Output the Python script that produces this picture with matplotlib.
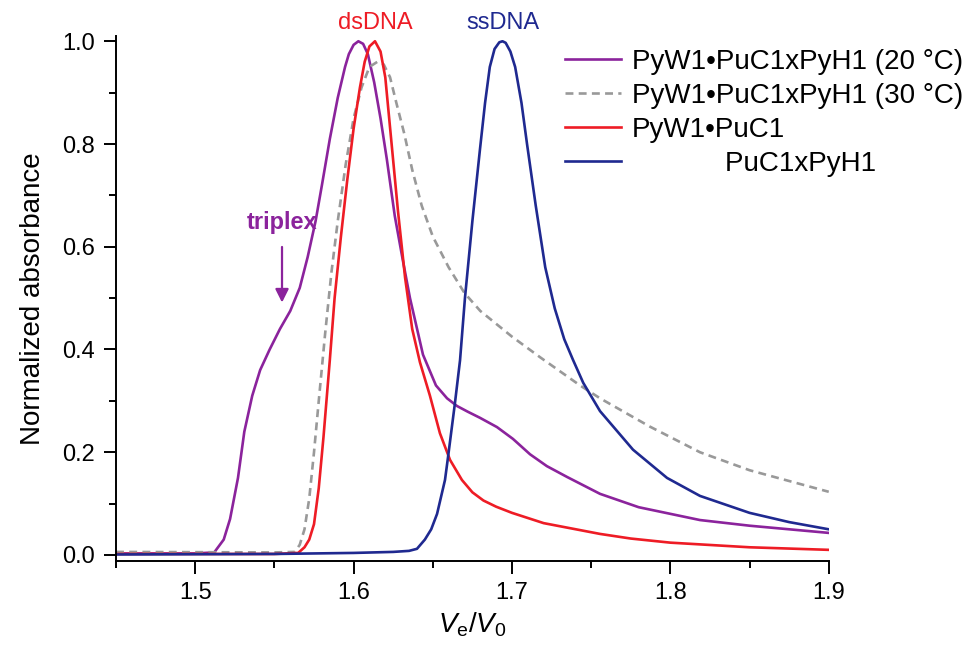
import matplotlib
matplotlib.use('Agg')
import matplotlib.pyplot as plt
from matplotlib.ticker import MultipleLocator

plt.rcParams['font.family'] = ['Liberation Sans', 'DejaVu Sans']
plt.rcParams['mathtext.fontset'] = 'custom'
plt.rcParams['mathtext.rm'] = 'Liberation Sans'
plt.rcParams['mathtext.it'] = 'Liberation Sans:italic'

# PyW1•PuC1xPyH1 at 20 °C
x_20 = [1.45, 1.50, 1.512, 1.518, 1.522, 1.527, 1.531, 1.536, 1.541, 1.547, 1.5535,
        1.56, 1.566, 1.571, 1.576, 1.58, 1.585, 1.59, 1.5946, 1.597, 1.6, 1.603,
        1.606, 1.609, 1.613, 1.617, 1.621, 1.626, 1.631, 1.6356, 1.6438, 1.652,
        1.659, 1.6653, 1.672, 1.6798, 1.6905, 1.7006, 1.7114, 1.722, 1.7347, 1.7556,
        1.78, 1.8187, 1.85, 1.875, 1.9]
y_20 = [0.003, 0.003, 0.005, 0.03, 0.07, 0.15, 0.24, 0.31, 0.36, 0.40, 0.44,
        0.475, 0.52, 0.58, 0.65, 0.72, 0.81, 0.89, 0.95, 0.975, 0.993, 1.0,
        0.995, 0.975, 0.92, 0.85, 0.77, 0.66, 0.575, 0.50, 0.39, 0.33,
        0.305, 0.29, 0.279, 0.267, 0.249, 0.226, 0.196, 0.173, 0.152, 0.119,
        0.093, 0.068, 0.057, 0.05, 0.043]

# PyW1•PuC1xPyH1 at 30 °C
x_30 = [1.45, 1.55, 1.563, 1.566, 1.569, 1.572, 1.575, 1.578, 1.582, 1.586, 1.59,
        1.595, 1.6, 1.605, 1.61, 1.615, 1.619, 1.623, 1.627, 1.632, 1.637, 1.643,
        1.65, 1.66, 1.67, 1.68, 1.69, 1.70, 1.7177, 1.743, 1.7556, 1.787, 1.8187,
        1.85, 1.9]
y_30 = [0.006, 0.005, 0.006, 0.02, 0.05, 0.11, 0.2, 0.3, 0.43, 0.55, 0.65,
        0.76, 0.85, 0.91, 0.95, 0.96, 0.955, 0.93, 0.88, 0.82, 0.75, 0.68,
        0.62, 0.56, 0.51, 0.475, 0.45, 0.425, 0.385, 0.33, 0.305, 0.25, 0.2,
        0.165, 0.123]

# PyW1•PuC1 duplex
x_ds = [1.45, 1.55, 1.565, 1.569, 1.572, 1.575, 1.578, 1.581, 1.585, 1.588, 1.592,
        1.596, 1.6, 1.604, 1.607, 1.61, 1.6135, 1.617, 1.62, 1.624, 1.628, 1.6325,
        1.637, 1.6419, 1.6482, 1.6545, 1.6609, 1.6684, 1.675, 1.682, 1.69, 1.70,
        1.72, 1.7556, 1.775, 1.8, 1.85, 1.9]
y_ds = [0.002, 0.002, 0.004, 0.015, 0.03, 0.06, 0.13, 0.23, 0.38, 0.5, 0.62,
        0.73, 0.83, 0.91, 0.96, 0.99, 1.0, 0.98, 0.93, 0.80, 0.67, 0.54,
        0.44, 0.375, 0.31, 0.237, 0.185, 0.146, 0.122, 0.106, 0.094, 0.082,
        0.062, 0.041, 0.032, 0.024, 0.015, 0.01]

# PuC1xPyH1 single strands
x_ss = [1.45, 1.55, 1.60, 1.625, 1.635, 1.64, 1.645, 1.649, 1.6527, 1.6577, 1.6596,
        1.664, 1.6672, 1.6703, 1.675, 1.6798, 1.683, 1.686, 1.689, 1.692, 1.694,
        1.696, 1.699, 1.702, 1.706, 1.7095, 1.715, 1.721, 1.727, 1.733, 1.7385,
        1.745, 1.7556, 1.7764, 1.7979, 1.8187, 1.85, 1.875, 1.9]
y_ss = [0.001, 0.002, 0.004, 0.006, 0.008, 0.012, 0.03, 0.05, 0.08, 0.146, 0.19,
        0.296, 0.379, 0.5, 0.65, 0.79, 0.88, 0.95, 0.985, 0.998, 1.0,
        0.997, 0.98, 0.95, 0.88, 0.80, 0.68, 0.56, 0.48, 0.42, 0.38,
        0.335, 0.28, 0.205, 0.15, 0.115, 0.082, 0.064, 0.05]

c_purple = '#8B239C'
c_red = '#EE1C25'
c_blue = '#1F2990'
c_gray = '#999999'

fig = plt.figure(figsize=(9.75, 6.45), dpi=100)
ax = fig.add_axes([0.119, 0.130, 0.731, 0.814])

l1, = ax.plot(x_20, y_20, color=c_purple, lw=1.9)
l2, = ax.plot(x_30, y_30, color=c_gray, lw=1.9, dashes=(3, 2))
l3, = ax.plot(x_ds, y_ds, color=c_red, lw=1.9)
l4, = ax.plot(x_ss, y_ss, color=c_blue, lw=1.9)

ax.set_xlim(1.45, 1.9)
ax.set_ylim(-0.012, 1.01)
ax.spines['top'].set_visible(False)
ax.spines['right'].set_visible(False)
for s in ['left', 'bottom']:
    ax.spines[s].set_linewidth(1.4)

ax.xaxis.set_major_locator(MultipleLocator(0.1))
ax.xaxis.set_minor_locator(MultipleLocator(0.05))
ax.yaxis.set_major_locator(MultipleLocator(0.2))
ax.yaxis.set_minor_locator(MultipleLocator(0.1))
ax.xaxis.set_major_formatter(plt.FormatStrFormatter('%.1f'))
ax.yaxis.set_major_formatter(plt.FormatStrFormatter('%.1f'))
ax.tick_params(which='major', direction='out', length=9, width=1.4, labelsize=17, pad=6)
ax.tick_params(which='minor', direction='out', length=5, width=1.4)

ax.set_xlabel('$V_\\mathrm{e}/V_0$', fontsize=20)
ax.xaxis.label.set_va('center')
ax.xaxis.set_label_coords(0.5, -0.122)
ax.set_ylabel('Normalized absorbance', fontsize=20, labelpad=12)

ax.text(1.6135, 1.035, 'dsDNA', color=c_red, fontsize=17, ha='center', va='center', clip_on=False)
ax.text(1.694, 1.035, 'ssDNA', color=c_blue, fontsize=17, ha='center', va='center', clip_on=False)

ax.text(1.5548, 0.648, 'triplex', color=c_purple, fontsize=17, fontweight='bold',
        ha='center', va='center')
ax.annotate('', xy=(1.5548, 0.486), xytext=(1.5548, 0.605),
            arrowprops=dict(arrowstyle='-|>', color=c_purple, lw=1.6,
                            mutation_scale=20))

leg = fig.legend([l1, l2, l3, l4],
                 ['PyW1•PuC1xPyH1 (20 °C)', 'PyW1•PuC1xPyH1 (30 °C)',
                  'PyW1•PuC1', '            PuC1xPyH1'],
                 loc='upper left', bbox_to_anchor=(565 / 975, 1 - 49 / 645),
                 frameon=False, fontsize=20, handlelength=2.0, handletextpad=0.4,
                 labelspacing=0.29, borderaxespad=0, borderpad=0)

fig.savefig('out.png', dpi=100)
